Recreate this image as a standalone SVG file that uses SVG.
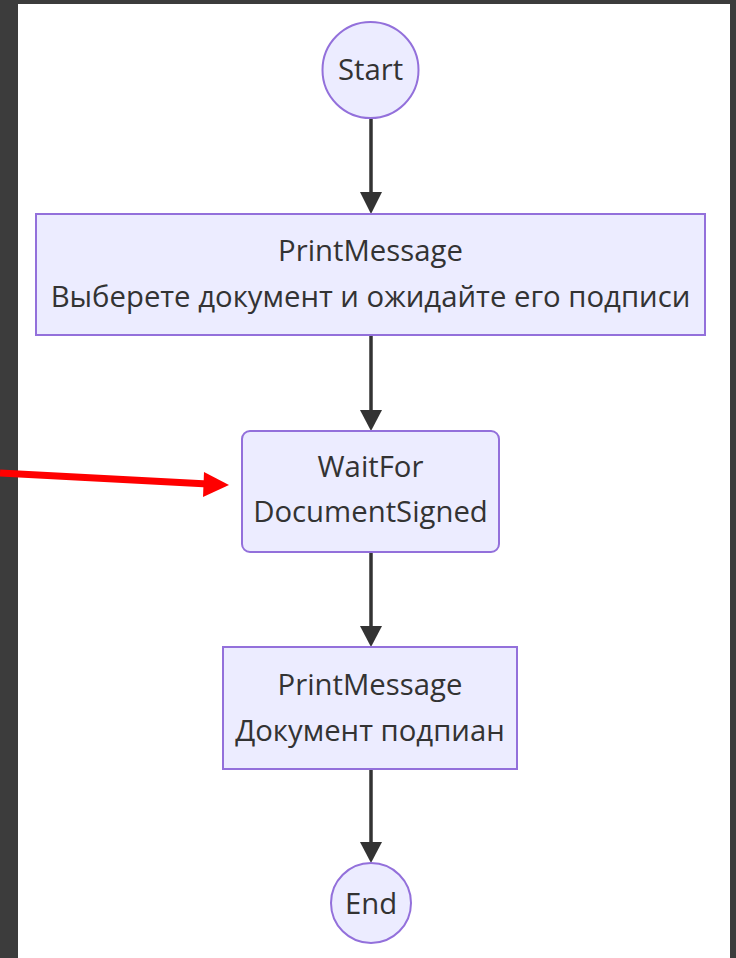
<svg xmlns="http://www.w3.org/2000/svg" width="736" height="958" viewBox="0 0 736 958">
<defs>
<style>
.node{fill:#ECECFF;stroke:#9370DB;stroke-width:2}
.lbl{font-family:"Open Sans","DejaVu Sans",sans-serif;font-size:29.3px;font-weight:500;fill:#333;text-anchor:middle}
.edge{stroke:#333;stroke-width:3.5;fill:none}
</style>
</defs>
<rect x="0" y="0" width="736" height="958" fill="#3c3c3c"/>
<rect x="18" y="4" width="712" height="954" fill="#ffffff"/>
<g id="connectors">
<line class="edge" x1="371" y1="118" x2="371" y2="194"/>
<path d="M360,192 L382,192 L371,214 Z" fill="#333"/>
<line class="edge" x1="371" y1="335" x2="371" y2="412"/>
<path d="M360,410 L382,410 L371,431 Z" fill="#333"/>
<line class="edge" x1="371" y1="552" x2="371" y2="628"/>
<path d="M360,626 L382,626 L371,647 Z" fill="#333"/>
<line class="edge" x1="371" y1="769" x2="371" y2="844"/>
<path d="M360,842 L382,842 L371,863 Z" fill="#333"/>
</g>
<g id="start">
<circle class="node" cx="370.5" cy="70" r="48"/>
<text class="lbl" x="370.5" y="80">Start</text>
</g>
<g id="print1">
<rect class="node" x="36" y="214" width="669" height="121"/>
<text class="lbl" x="370.5" y="261">PrintMessage</text>
<text class="lbl" x="370.5" y="307">Выберете документ и ожидайте его подписи</text>
</g>
<g id="waitfor">
<rect class="node" x="242" y="431" width="257" height="121" rx="8" ry="8"/>
<text class="lbl" x="370.5" y="477">WaitFor</text>
<text class="lbl" x="370.5" y="522">DocumentSigned</text>
</g>
<g id="print2">
<rect class="node" x="223" y="647" width="294" height="122"/>
<text class="lbl" x="370" y="695">PrintMessage</text>
<text class="lbl" x="370" y="741">Документ подпиан</text>
</g>
<g id="end">
<circle class="node" cx="371" cy="903" r="40"/>
<text class="lbl" x="371" y="914">End</text>
</g>
<g id="pointer">
<line x1="0" y1="473" x2="208" y2="484" stroke="#ff0000" stroke-width="7"/>
<path d="M204,472 L229,485 L203,497 Z" fill="#ff0000"/>
</g>
</svg>
